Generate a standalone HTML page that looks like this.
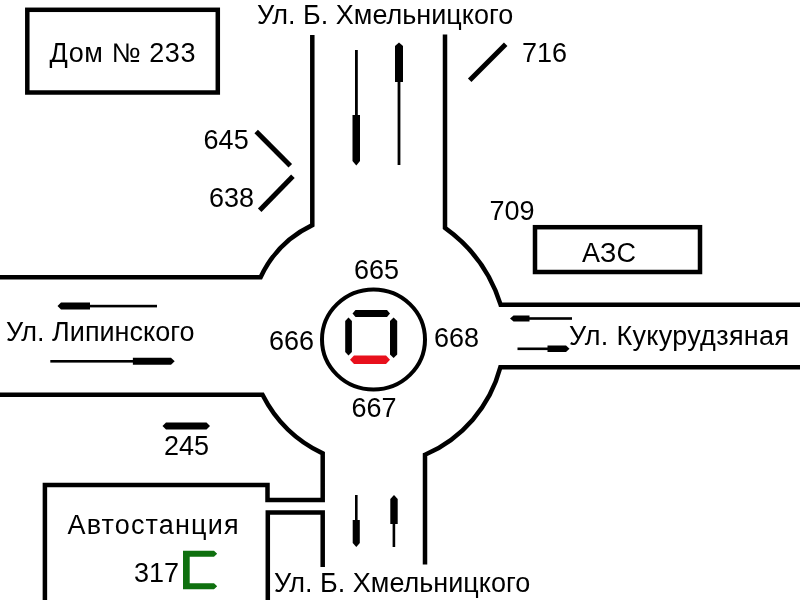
<!DOCTYPE html>
<html>
<head>
<meta charset="utf-8">
<style>
html,body{margin:0;padding:0;background:#fff;}
body{width:800px;height:600px;overflow:hidden;}
svg{display:block;filter:blur(0.4px);}
text{font-family:"Liberation Sans",sans-serif;font-size:27px;fill:#000;}
.t{filter:grayscale(1);}
</style>
</head>
<body>
<svg width="800" height="600" viewBox="0 0 800 600">
<rect width="800" height="600" fill="#fff"/>
<g fill="none" stroke="#000" stroke-width="4.5" stroke-linejoin="miter" stroke-linecap="butt">
  <!-- Dom box -->
  <rect x="27.3" y="9.8" width="190.5" height="82.7"/>
  <!-- AZS box -->
  <rect x="535" y="227.2" width="165" height="44.8"/>
  <!-- top-left road edge -->
  <path d="M312.3 35 V225.1 A108.5 108.5 0 0 0 260.6 277.2 H-5"/>
  <!-- top-right road edge -->
  <path d="M445 34.5 V227.9 A149.5 149.5 0 0 1 500.6 304.7 H805"/>
  <!-- bottom-right road edge -->
  <path d="M805 367.2 H500.4 A132.3 132.3 0 0 1 425 454.8 V564.5"/>
  <!-- bottom-left road edge + bus station notch -->
  <path d="M-5 394.7 H262.5 A130 130 0 0 0 322.7 453.4 V500 H267.5 V484.9 H44.9 V605"/>
  <path d="M267.8 605 V512.5 H322.7 V567"/>
  <!-- roundabout circle -->
  <ellipse cx="373.5" cy="339.5" rx="51.5" ry="50" stroke-width="4"/>
</g>
<!-- lane markers -->
<g fill="#000">
  <!-- top left vertical -->
  <rect x="355" y="50" width="2.8" height="66"/>
  <path d="M352.5 115 H360 V161 L356.3 165.5 L352.5 161 Z"/>
  <!-- top right vertical -->
  <path d="M395 46 L399 42.5 L403 46 V82 H395 Z"/>
  <rect x="397.6" y="81" width="2.8" height="84"/>
  <!-- bottom left vertical -->
  <rect x="355" y="495" width="2.6" height="26"/>
  <path d="M352.7 520 H359.8 V543 L356.3 547 L352.7 543 Z"/>
  <!-- bottom right vertical -->
  <path d="M390.3 499 L394 495 L397.7 499 V524 H390.3 Z"/>
  <rect x="392.6" y="523" width="2.6" height="24"/>
  <!-- left road upper (pointing left) -->
  <path d="M57.5 306 L61 302.5 H90 V309.6 H61 Z"/>
  <rect x="89" y="304.8" width="68" height="2.6"/>
  <!-- left road lower (pointing right) -->
  <rect x="50.3" y="360" width="83" height="2.6"/>
  <path d="M132.9 357.8 H171 L174.7 361.3 L171 364.8 H132.9 Z"/>
  <!-- right road upper (pointing left) -->
  <path d="M510 318.5 L513.5 315.5 H529.5 V321.5 H513.5 Z"/>
  <rect x="529" y="317.2" width="43" height="2.6"/>
  <!-- right road lower (pointing right) -->
  <rect x="517.5" y="347.5" width="30.5" height="2.6"/>
  <path d="M547.5 345.5 H566 L569.5 348.8 L566 352 H547.5 Z"/>
  <!-- 245 marker -->
  <path d="M162.5 426 L166 422.5 H206.5 L210 426 L206.5 429.5 H166 Z"/>
  <!-- diagonal markers -->
  <line x1="256.2" y1="131.6" x2="290.3" y2="165.7" stroke="#000" stroke-width="5"/>
  <line x1="292.9" y1="176.2" x2="259.7" y2="210.3" stroke="#000" stroke-width="5"/>
  <line x1="505.7" y1="44.2" x2="469.7" y2="80.2" stroke="#000" stroke-width="5"/>
  <!-- 7 segment -->
  <path d="M352.5 313.4 L355.5 310 H387 L390 313.4 L387 317 H355.5 Z"/>
  <path d="M348.5 317.5 L351.9 321 V352 L348.5 355.4 L345.2 352 V321 Z"/>
  <path d="M393.6 317.5 L397.2 321 V354.5 L393.6 358 L390 354.5 V321 Z"/>
  <path fill="#e8101c" d="M350 359.7 L354 355.5 H386 L390 359.7 L386 364 H354 Z"/>
  <!-- green C -->
  <path fill="#0f700f" d="M183 550.8 H214 L217.2 553.7 L214 556.7 H189.7 V583.3 H214 L217.2 586.2 L214 589.2 H183 Z"/>
</g>
<!-- texts -->
<g class="t">
<text x="257" y="24.4">Ул. Б. Хмельницкого</text>
<text x="49.5" y="62" textLength="146" lengthAdjust="spacing">Дом № 233</text>
<text x="522" y="61.5">716</text>
<text x="203.6" y="149">645</text>
<text x="209" y="206.8">638</text>
<text x="489.5" y="220">709</text>
<text x="582" y="262" textLength="54" lengthAdjust="spacing">АЗС</text>
<text x="354" y="279.3">665</text>
<text x="269" y="349.6">666</text>
<text x="434" y="347">668</text>
<text x="351.5" y="416.7">667</text>
<text x="6" y="341.25">Ул. Липинского</text>
<text x="569" y="344.5" textLength="220" lengthAdjust="spacing">Ул. Кукурудзяная</text>
<text x="164" y="454.5">245</text>
<text x="67.5" y="534" textLength="171" lengthAdjust="spacing">Автостанция</text>
<text x="134" y="582">317</text>
<text x="274" y="592">Ул. Б. Хмельницкого</text>
</g>
</svg>
</body>
</html>
